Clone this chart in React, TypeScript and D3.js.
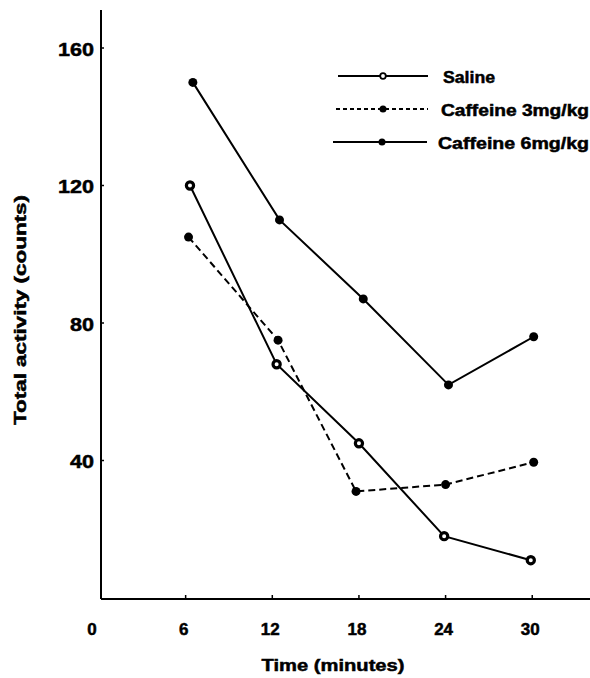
import React from 'react';
import * as d3 from 'd3';

const timeTicks = [0, 6, 12, 18, 24, 30];
const activityTicks = [40, 80, 120, 160];

const salineTime = [6.3, 12.3, 18.0, 23.9, 29.9];
const salineActivity = [120, 68, 45, 18, 11];
const caf3Time = [6.2, 12.4, 17.8, 24.0, 30.1];
const caf3Activity = [105, 75, 31, 33, 39.5];
const caf6Time = [6.5, 12.5, 18.3, 24.2, 30.1];
const caf6Activity = [150, 110, 87, 62, 76];

const seriesNames = ['Saline', 'Caffeine 3mg/kg', 'Caffeine 6mg/kg'];

const FONT = '"Liberation Sans", Arial, Helvetica, sans-serif';

export default function App() {
  const width = 590;
  const height = 678;

  const x = d3.scaleLinear().domain([0, 34]).range([99, 590]);
  const y = d3.scaleLinear().domain([0, 160]).range([598, 48]);

  const line = d3.line<[number, number]>()
    .x(d => x(d[0]))
    .y(d => y(d[1]));

  const series = [
    { name: seriesNames[0], pts: salineTime.map((t, i) => [t, salineActivity[i]] as [number, number]), dash: null, open: true },
    { name: seriesNames[1], pts: caf3Time.map((t, i) => [t, caf3Activity[i]] as [number, number]), dash: '7 4', open: false },
    { name: seriesNames[2], pts: caf6Time.map((t, i) => [t, caf6Activity[i]] as [number, number]), dash: null, open: false },
  ];

  const axisX = 101;
  const axisY = 599;

  // legend layout
  const legendRows = [
    { y: 76, x1: 338, x2: 428, mx: 383, tx: 443, tl: 52 },
    { y: 109, x1: 336, x2: 428, mx: 383, tx: 441, tl: 148 },
    { y: 142, x1: 333, x2: 427, mx: 382, tx: 438, tl: 151 },
  ];

  const heavy = { stroke: '#000', strokeWidth: 0.5 };

  return (
    <svg width={width} height={height} style={{ position: 'absolute', left: 0, top: 0, background: '#fff' }}
      fontFamily={FONT} fontWeight="bold">
      {/* axes */}
      <line x1={axisX} y1={10} x2={axisX} y2={axisY} stroke="#000" strokeWidth={2} />
      <line x1={axisX} y1={axisY} x2={590} y2={axisY} stroke="#000" strokeWidth={2} />
      {activityTicks.map(v => (
        <g key={'yt' + v}>
          <line x1={axisX} x2={axisX + 3} y1={y(v)} y2={y(v)} stroke="#000" strokeWidth={1.5} />
          <text x={94} y={y(v) + 1} textAnchor="end" dominantBaseline="central" fontSize={19} {...heavy}
            textLength={String(v).length * 12} lengthAdjust="spacingAndGlyphs">{v}</text>
        </g>
      ))}
      {timeTicks.map(v => (
        <g key={'xt' + v}>
          {v > 0 && <line x1={x(v)} x2={x(v)} y1={axisY} y2={axisY - 4} stroke="#000" strokeWidth={1.5} />}
          <text x={v === 0 ? x(v) - 7 : x(v) - 2} y={629} textAnchor="middle" dominantBaseline="central" fontSize={17}
            {...heavy}>{v}</text>
        </g>
      ))}
      <text x={333} y={665} textAnchor="middle" dominantBaseline="central" fontSize={17} {...heavy}
        textLength={143} lengthAdjust="spacingAndGlyphs">Time (minutes)</text>
      <text transform={`translate(20,310) rotate(-90)`} textAnchor="middle" dominantBaseline="central" fontSize={17}
        {...heavy} textLength={230} lengthAdjust="spacingAndGlyphs">Total activity (counts)</text>

      {/* data */}
      {series.map(s => (
        <g key={s.name}>
          <path d={line(s.pts) || ''} fill="none" stroke="#000" strokeWidth={2}
            strokeDasharray={s.dash || undefined} />
          {s.pts.map((p, i) => (
            s.open
              ? <circle key={i} cx={x(p[0])} cy={y(p[1])} r={3.6} fill="#fff" stroke="#000" strokeWidth={3.2} />
              : <circle key={i} cx={x(p[0])} cy={y(p[1])} r={4.5} fill="#000" />
          ))}
        </g>
      ))}

      {/* legend */}
      {series.map((s, i) => {
        const r = legendRows[i];
        return (
          <g key={'lg' + i}>
            <line x1={r.x1} x2={r.x2} y1={r.y} y2={r.y} stroke="#000" strokeWidth={1.8}
              strokeDasharray={s.dash ? '4 3' : undefined} />
            {s.open
              ? <circle cx={r.mx} cy={r.y} r={2.8} fill="#fff" stroke="#000" strokeWidth={1.8} />
              : <circle cx={r.mx} cy={r.y} r={3.5} fill="#000" />}
            <text x={r.tx} y={r.y + 1} dominantBaseline="central" fontSize={16} {...heavy}
              textLength={r.tl} lengthAdjust="spacingAndGlyphs">{s.name}</text>
          </g>
        );
      })}
    </svg>
  );
}
